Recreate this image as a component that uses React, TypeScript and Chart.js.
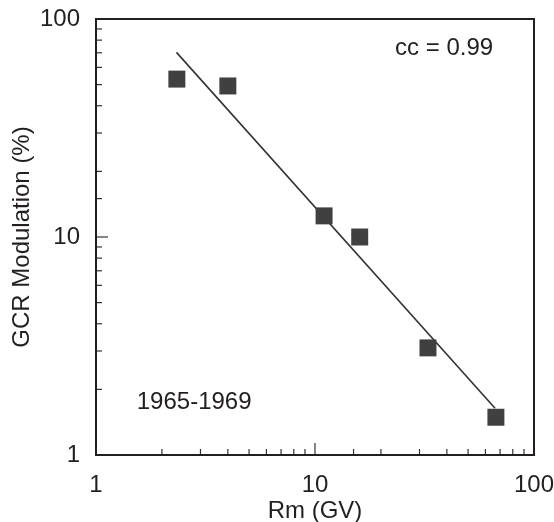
import React, { useEffect, useRef } from "react";
import { Chart, registerables } from "chart.js";

Chart.register(...registerables);

// Data
const rigidity = [2.34, 4.0, 11.0, 16.0, 32.8, 67];
const modulation = [53, 49.3, 12.5, 10.0, 3.1, 1.49];
const fitRigidity = [2.33, 66.4];
const fitModulation = [70.3, 1.64];
const tickLabels = [1, 10, 100];
const ccText = "cc = 0.99";
const periodText = "1965-1969";

// Annotation anchors (in data units)
const ccAnchor = { x: 23.2, y: 73.6 };
const periodAnchor = { x: 1.535, y: 1.74 };

const FONT = "'Liberation Sans', Arial, Helvetica, sans-serif";
const INK = "#231f20";
const FS = 24;

const isDecade = (v: number) => Math.abs(Math.log10(v) - Math.round(Math.log10(v))) < 1e-6;

const framePlugin = {
  id: "frameTicks",
  afterDraw(chart: any) {
    const { ctx, chartArea, scales } = chart;
    const { left, right, top, bottom } = chartArea;
    const xs = scales.x;
    const ys = scales.y;
    ctx.save();
    ctx.strokeStyle = "#333";
    ctx.lineWidth = 1.2;
    for (const t of xs.ticks) {
      const px = xs.getPixelForValue(t.value);
      const len = isDecade(t.value) ? 12 : 6;
      ctx.beginPath();
      ctx.moveTo(px, bottom);
      ctx.lineTo(px, bottom - len);
      ctx.stroke();
    }
    for (const t of ys.ticks) {
      const py = ys.getPixelForValue(t.value);
      const len = isDecade(t.value) ? 12 : 6;
      ctx.beginPath();
      ctx.moveTo(left, py);
      ctx.lineTo(left + len, py);
      ctx.stroke();
    }
    ctx.strokeStyle = INK;
    ctx.lineWidth = 2;
    ctx.strokeRect(left, top, right - left, bottom - top);

    ctx.fillStyle = INK;
    ctx.font = `${FS}px ${FONT}`;
    ctx.textAlign = "left";
    ctx.textBaseline = "middle";
    ctx.fillText(ccText, xs.getPixelForValue(ccAnchor.x), ys.getPixelForValue(ccAnchor.y));
    ctx.fillText(periodText, xs.getPixelForValue(periodAnchor.x), ys.getPixelForValue(periodAnchor.y));
    ctx.restore();
  },
};

export default function App() {
  const ref = useRef<HTMLCanvasElement>(null);
  useEffect(() => {
    if (!ref.current) return;
    const chart = new Chart(ref.current, {
      type: "scatter",
      data: {
        datasets: [
          {
            label: "GCR modulation",
            data: rigidity.map((x, i) => ({ x, y: modulation[i] })),
            pointStyle: "rect",
            pointRadius: 12,
            pointBackgroundColor: "#404040",
            pointBorderColor: "#404040",
            pointBorderWidth: 0,
            showLine: false,
          },
          {
            label: "fit",
            data: fitRigidity.map((x, i) => ({ x, y: fitModulation[i] })),
            showLine: true,
            borderColor: "#333",
            borderWidth: 1.6,
            pointRadius: 0,
            fill: false,
          },
        ],
      },
      options: {
        animation: false,
        responsive: false,
        maintainAspectRatio: false,
        layout: { padding: { left: 0, top: 19, right: 20, bottom: 0 } },
        plugins: { legend: { display: false }, tooltip: { enabled: false } },
        scales: {
          x: {
            type: "logarithmic",
            min: 1,
            max: 100,
            grid: { display: false, drawTicks: false },
            border: { display: false },
            afterFit: (s: any) => {
              s.height = 67;
              s.paddingLeft = 0;
              s.paddingRight = 0;
            },
            ticks: {
              autoSkip: false,
              maxRotation: 0,
              padding: 16,
              color: INK,
              font: { family: FONT, size: FS },
              callback: (v: any) => (tickLabels.includes(Number(v)) ? String(v) : ""),
            },
            title: {
              display: true,
              text: "Rm (GV)",
              color: INK,
              font: { family: FONT, size: FS },
              padding: { top: 0, bottom: -4 },
            },
          },
          y: {
            type: "logarithmic",
            min: 1,
            max: 100,
            grid: { display: false, drawTicks: false },
            border: { display: false },
            afterFit: (s: any) => {
              s.width = 96;
              s.paddingTop = 0;
              s.paddingBottom = 0;
            },
            ticks: {
              autoSkip: false,
              padding: 16,
              color: INK,
              font: { family: FONT, size: FS },
              callback: (v: any) => (tickLabels.includes(Number(v)) ? String(v) : ""),
            },
            title: {
              display: true,
              text: "GCR Modulation (%)",
              color: INK,
              font: { family: FONT, size: FS },
              padding: { top: 8, bottom: 0 },
            },
          },
        },
      },
      plugins: [framePlugin],
    });
    return () => chart.destroy();
  }, []);
  return (
    <div style={{ position: "absolute", left: 0, top: 0, width: 554, height: 522 }}>
      <canvas ref={ref} width={554} height={522} style={{ display: "block" }} />
    </div>
  );
}
